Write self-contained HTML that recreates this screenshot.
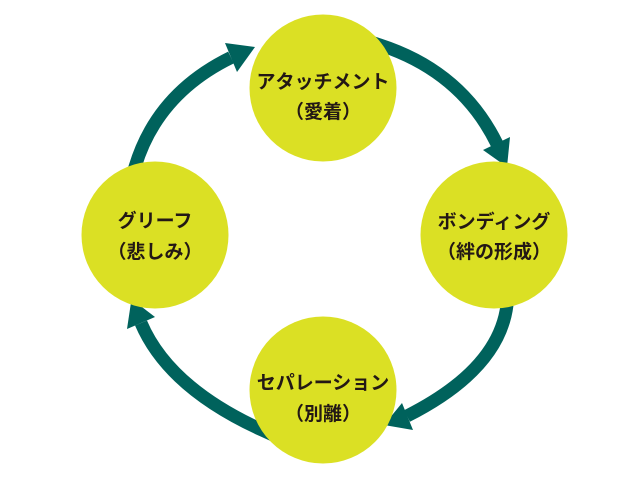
<!DOCTYPE html>
<html>
<head>
<meta charset="utf-8">
<style>
  html, body { margin:0; padding:0; background:#ffffff; }
  body { width:640px; height:480px; overflow:hidden; }
  svg { display:block; }
  text { font-family: "Liberation Sans", "Noto Sans CJK JP", sans-serif; font-weight:bold; font-size:19px; fill:#231815; }
</style>
</head>
<body>
<svg width="640" height="480" viewBox="0 0 640 480" xmlns="http://www.w3.org/2000/svg">
  <g fill="none" stroke="#00625C" stroke-width="13" stroke-linecap="butt">
    <path d="M368,41 L380,45 Q461.5,71.5 497,144"/>
    <path d="M508.5,293 L507,305 Q499,369.5 407,416"/>
    <path d="M273,435 L262,430 Q168.5,387.5 141,323"/>
    <path d="M131.5,179 L135,167 Q157,93.75 231,57.5"/>
  </g>
  <g fill="#00625C">
    <polygon points="483,150 510,137 507,167"/>
    <polygon points="402,403 413,430 384,425"/>
    <polygon points="127,329 155,317 131.5,299"/>
    <polygon points="225,43 237,72 255,47"/>
  </g>
  <g fill="#DBE024">
    <circle cx="323" cy="88" r="73.5"/>
    <circle cx="494" cy="235" r="73.5"/>
    <circle cx="323" cy="390" r="73.5"/>
    <circle cx="155" cy="235" r="73.5"/>
  </g>
  <g text-anchor="middle">
    <text x="323" y="88">アタッチメント</text>
    <text x="323" y="118">（愛着）</text>
    <text x="494" y="228">ボンディング</text>
    <text x="494" y="258">（絆の形成）</text>
    <text x="323" y="389">セパレーション</text>
    <text x="323" y="420">（別離）</text>
    <text x="155" y="227">グリーフ</text>
    <text x="155" y="258">（悲しみ）</text>
  </g>
</svg>
</body>
</html>
